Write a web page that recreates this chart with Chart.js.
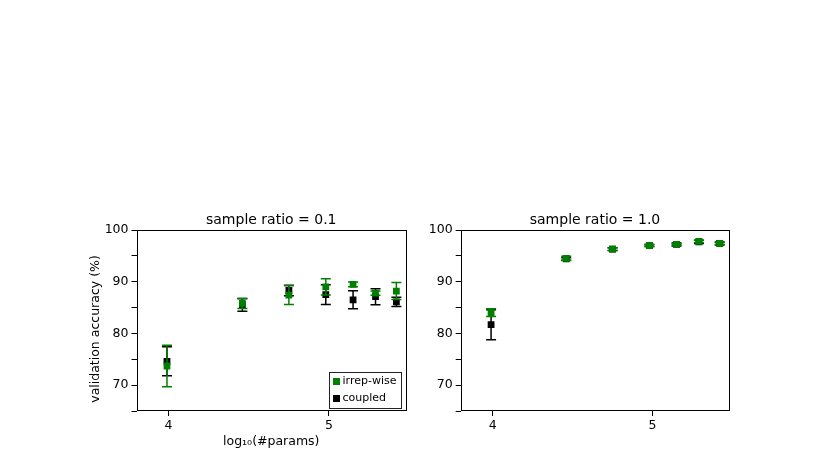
<!DOCTYPE html>
<html>
<head>
<meta charset="utf-8">
<script src="https://cdn.jsdelivr.net/npm/chart.js@4.4.0/dist/chart.umd.min.js"></script>
<style>
  body { margin: 0; background: #fff; width: 813px; height: 454px; overflow: hidden; position: relative; }
  canvas { position: absolute; top: 200px; }
</style>
</head>
<body>
<canvas id="left" width="420" height="254" style="left:0"></canvas>
<canvas id="right" width="393" height="254" style="left:420px"></canvas>
<script>
// log10 of parameter count for each model size
const logParams = [3.99, 4.46, 4.75, 4.98, 5.15, 5.29, 5.42];
const xTicks = [4, 5];

// sample ratio = 0.1
const irrepLow = [73.7, 85.8, 87.4, 89.0, 89.5, 87.8, 88.2];
const irrepLowErr = [4.0, 1.0, 1.8, 1.55, 0.45, 0.4, 1.65];
const coupledLow = [74.6, 85.5, 88.3, 87.5, 86.5, 87.1, 86.1];
const coupledLowErr = [2.8, 1.2, 1.0, 1.9, 1.75, 1.55, 0.9];

// sample ratio = 1.0
const irrepFull = [84.0, 94.5, 96.3, 97.0, 97.2, 97.8, 97.4];
const irrepFullErr = [0.75, 0.4, 0.25, 0.2, 0.15, 0.2, 0.2];
const coupledFull = [81.7, 94.4, 96.3, 97.0, 97.2, 97.7, 97.4];
const coupledFullErr = [2.9, 0.25, 0.25, 0.2, 0.3, 0.3, 0.3];

const GREEN = "#008000";
const FONT = "DejaVu Sans";
const yLabel = "validation accuracy (%)";
const xLabel = "log\u2081\u2080(#params)";

function points(ys) {
  return ys.map((y, i) => ({ x: logParams[i], y }));
}

// vertical error bars with caps, drawn right before each dataset
const errorBars = {
  id: "errorBars",
  beforeDatasetDraw(chart, args) {
    const ds = chart.data.datasets[args.index];
    if (!ds.errors) return;
    const xs = chart.scales.x, ys = chart.scales.y, ctx = chart.ctx;
    ctx.save();
    ctx.strokeStyle = ds.backgroundColor;
    ctx.lineWidth = 1.5;
    ds.data.forEach((p, i) => {
      const px = xs.getPixelForValue(p.x);
      const top = ys.getPixelForValue(p.y + ds.errors[i]);
      const bot = ys.getPixelForValue(p.y - ds.errors[i]);
      ctx.beginPath();
      ctx.moveTo(px, top); ctx.lineTo(px, bot);
      ctx.moveTo(px - 5, top); ctx.lineTo(px + 5, top);
      ctx.moveTo(px - 5, bot); ctx.lineTo(px + 5, bot);
      ctx.stroke();
    });
    ctx.restore();
  }
};

// full box around the axes
const frame = {
  id: "frame",
  afterDatasetsDraw(chart) {
    const a = chart.chartArea, ctx = chart.ctx;
    ctx.save();
    ctx.strokeStyle = "#000";
    ctx.lineWidth = 1;
    ctx.strokeRect(Math.round(a.left) + 0.5, Math.round(a.top) + 0.5,
      Math.round(a.right - a.left) - 1, Math.round(a.bottom - a.top) - 1);
    ctx.restore();
  }
};

const sideLabel = {
  id: "sideLabel",
  afterDraw(chart, args, opts) {
    if (!opts.text) return;
    const ctx = chart.ctx;
    ctx.save();
    ctx.translate(opts.x, opts.y);
    ctx.rotate(-Math.PI / 2);
    ctx.font = `12.5px "${FONT}"`;
    ctx.fillStyle = "#000";
    ctx.textAlign = "center";
    ctx.textBaseline = "middle";
    ctx.fillText(opts.text, 0, 0);
    ctx.restore();
  }
};

const boxLegend = {
  id: "boxLegend",
  afterDraw(chart, args, opts) {
    if (!opts.show) return;
    const a = chart.chartArea, ctx = chart.ctx;
    const w = 72, h = 36;
    const left = a.right - 5.5 - w, top = a.bottom - 3 - h;
    ctx.save();
    ctx.fillStyle = "#fff";
    ctx.fillRect(left, top, w, h);
    ctx.strokeStyle = "#222";
    ctx.lineWidth = 1;
    ctx.strokeRect(Math.round(left) + 0.5, Math.round(top) + 0.5, w, h);
    ctx.font = `11px "${FONT}"`;
    ctx.textBaseline = "middle";
    chart.data.datasets.forEach((ds, i) => {
      const cy = top + 9.5 + i * 17;
      ctx.fillStyle = ds.backgroundColor;
      ctx.fillRect(left + 4.5, cy - 3.5, 7, 7);
      ctx.fillStyle = "#000";
      ctx.fillText(ds.label, left + 14, cy);
    });
    ctx.restore();
  }
};

function makeChart(id, title, irrep, irrepErr, coupled, coupledErr, o) {
  return new Chart(document.getElementById(id), {
    type: "scatter",
    data: {
      datasets: [
        { label: "irrep-wise", data: points(irrep), errors: irrepErr, order: 1,
          backgroundColor: GREEN, borderColor: GREEN, pointStyle: "rect", pointRadius: 4.8, borderWidth: 0 },
        { label: "coupled", data: points(coupled), errors: coupledErr, order: 2,
          backgroundColor: "#000", borderColor: "#000", pointStyle: "rect", pointRadius: 4.8, borderWidth: 0 }
      ]
    },
    options: {
      responsive: false,
      animation: false,
      layout: { padding: { left: 0, right: o.padRight, top: 0, bottom: 0 } },
      plugins: {
        legend: { display: false },
        tooltip: { enabled: false },
        title: {
          display: true, text: title, fullSize: false, color: "#000",
          font: { family: FONT, size: 14, weight: "normal" },
          padding: { top: 12, bottom: 1.2 }
        },
        sideLabel: o.sideLabel,
        boxLegend: { show: o.legend }
      },
      scales: {
        x: {
          type: "linear", min: 3.8, max: 5.48,
          afterFit: s => { s.height = 43; },
          afterBuildTicks: s => { s.ticks = xTicks.map(v => ({ value: v })); },
          grid: { drawOnChartArea: false, color: "#000", tickLength: 5, tickWidth: 1 },
          border: { display: false },
          ticks: { color: "#000", padding: 2, font: { family: FONT, size: 12.5 }, callback: v => String(v) },
          title: {
            display: !!o.xTitle, text: o.xTitle || "", color: "#000",
            font: { family: FONT, size: 12.5 }, padding: { top: 0, bottom: 4.5 }
          }
        },
        y: {
          min: 65, max: 100,
          afterFit: s => { s.width = o.yWidth; },
          grid: { drawOnChartArea: false, color: "#000", tickLength: 5, tickWidth: 1 },
          border: { display: false },
          ticks: { stepSize: 5, color: "#000", padding: 3, font: { family: FONT, size: 12.5 },
            callback: v => (v % 10 === 0 ? String(v) : "") }
        }
      }
    },
    plugins: [errorBars, frame, sideLabel, boxLegend]
  });
}

makeChart("left", "sample ratio = 0.1", irrepLow, irrepLowErr, coupledLow, coupledLowErr, {
  padRight: 14, yWidth: 136.5, xTitle: xLabel, legend: true,
  sideLabel: { text: yLabel, x: 96, y: 129 }
});
makeChart("right", "sample ratio = 1.0", irrepFull, irrepFullErr, coupledFull, coupledFullErr, {
  padRight: 83.7, yWidth: 40.7, xTitle: "", legend: false,
  sideLabel: {}
});
</script>
</body>
</html>
